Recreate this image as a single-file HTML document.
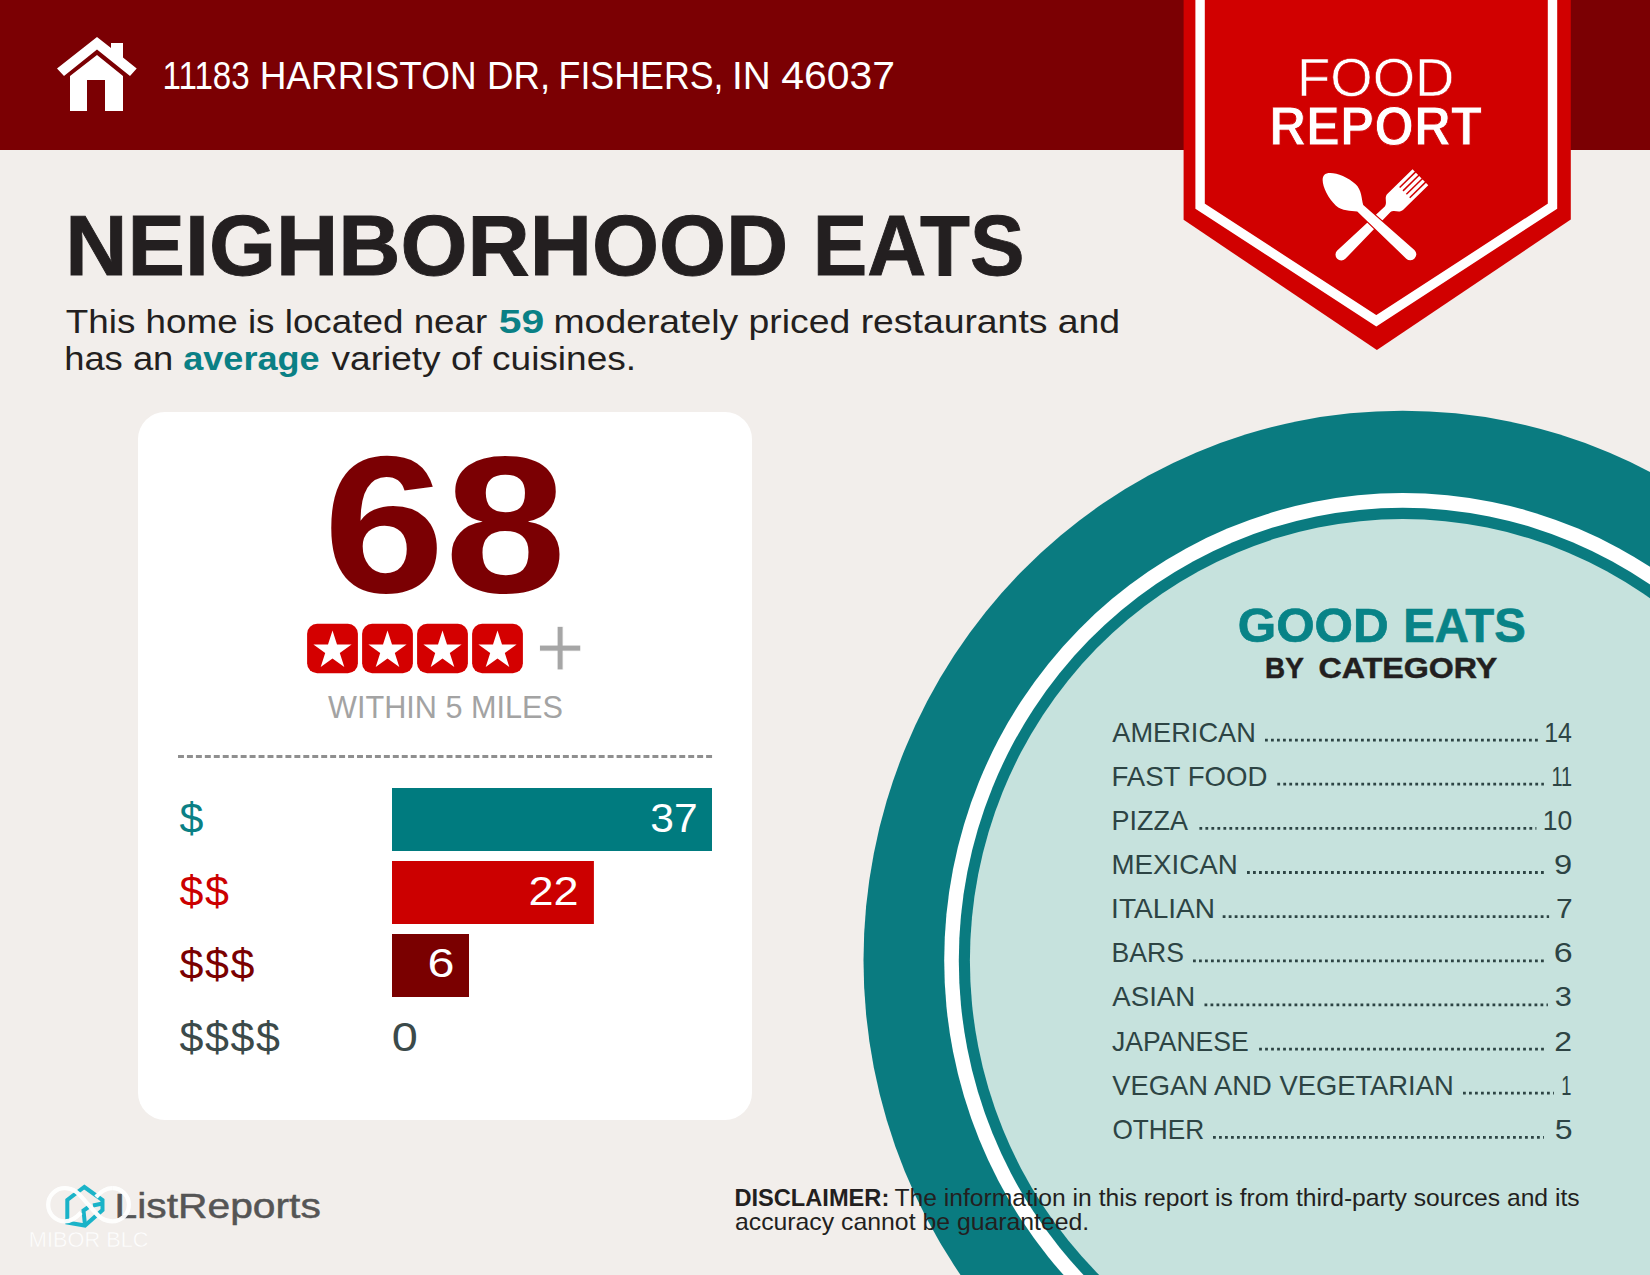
<!DOCTYPE html>
<html lang="en">
<head>
<meta charset="utf-8">
<title>Food Report - Neighborhood Eats</title>
<style>
  html, body { margin: 0; padding: 0; background: #f2eeeb; }
  body { width: 1650px; height: 1275px; overflow: hidden; position: relative; }
  svg { display: block; position: absolute; left: 0; top: 0; }
  text { font-family: "Liberation Sans", sans-serif; white-space: pre; }
</style>
</head>
<body>
<svg width="1650" height="1275" viewBox="0 0 1650 1275">
  <!-- page background -->
  <rect x="0" y="0" width="1650" height="1275" fill="#f2eeeb"/>

  <!-- plate / circle -->
  <g id="plate">
    <ellipse cx="1402.7" cy="960.4" rx="539.2" ry="549.7" fill="#0a7b80"/>
    <ellipse cx="1402.7" cy="960.4" rx="458.5" ry="467.4" fill="#ffffff"/>
    <ellipse cx="1402.7" cy="960.4" rx="443.9" ry="452.6" fill="#0a7b80"/>
    <ellipse cx="1402.7" cy="960.4" rx="432.8" ry="441.3" fill="#c6e2dd"/>
  </g>

  <!-- header bar -->
  <rect x="0" y="0" width="1650" height="150" fill="#7b0003"/>

  <!-- house icon -->
  <g id="house" fill="#ffffff">
    <polygon points="97,37 111,48 111,43 123,43 123,57.5 136.7,68.5 130,76 97,49.5 64,76 57,68.5"/>
    <polygon points="97,55 123,76 123,111 105,111 105,80 87,80 87,111 70,111 70,76"/>
  </g>
  <text y="89.1" font-size="38.7" fill="#ffffff"><tspan x="162.48" textLength="87.18" lengthAdjust="spacingAndGlyphs">11183</tspan> <tspan x="259.67" textLength="216.95" lengthAdjust="spacingAndGlyphs">HARRISTON</tspan> <tspan x="487.09" textLength="63.21" lengthAdjust="spacingAndGlyphs">DR,</tspan> <tspan x="558.57" textLength="164.95" lengthAdjust="spacingAndGlyphs">FISHERS,</tspan> <tspan x="732.02" textLength="38.74" lengthAdjust="spacingAndGlyphs">IN</tspan> <tspan x="781.16" textLength="113.80" lengthAdjust="spacingAndGlyphs">46037</tspan></text>

  <!-- badge -->
  <g id="badge">
    <polygon points="1183.6,-20 1570.8,-20 1570.8,219.6 1376.9,350 1183.6,219.8" fill="#d10000"/>
    <polygon points="1200.1,-20 1552.5,-20 1552.5,206.2 1376.3,320.8 1200.1,206.2" fill="none" stroke="#ffffff" stroke-width="9.4"/>
    <text x="1297.03" y="95.5" font-size="54.4" fill="#ffffff" textLength="157.38" lengthAdjust="spacingAndGlyphs" stroke="#d10000" stroke-width="0.6">FOOD</text>
    <text x="1269.13" y="145.1" font-size="55.0" font-weight="bold" fill="#ffffff" textLength="212.87" lengthAdjust="spacingAndGlyphs" stroke="#d10000" stroke-width="0.9">REPORT</text>
    <g id="utensils">
      <g transform="translate(1420.4,177.2) rotate(45.6)">
        <path d="M -11.25,0 L 11.25,0 L 11.25,35 C 11.25,40.5 4.8,41 3.9,46 L 5.8,110.7 A 5.8 5.8 0 0 1 -5.8,110.7 L -3.9,46 C -4.8,41 -11.25,40.5 -11.25,35 Z" fill="#ffffff"/>
        <rect x="-7.95" y="-1" width="1.5" height="23" fill="#d10000"/>
        <rect x="-3.15" y="-1" width="1.5" height="23" fill="#d10000"/>
        <rect x="1.65" y="-1" width="1.5" height="23" fill="#d10000"/>
        <rect x="6.45" y="-1" width="1.5" height="23" fill="#d10000"/>
      </g>
      <g transform="translate(1324.2,175.1) rotate(-47.4)">
        <path d="M 0,0 C 7,0 14.5,16 14.5,29 C 14.5,38 8,43 4.4,49 L 6,117 A 6 6 0 0 1 -6,117 L -4.4,49 C -8,43 -14.5,38 -14.5,29 C -14.5,16 -7,0 0,0 Z" fill="#ffffff" stroke="#d10000" stroke-width="2.4" paint-order="stroke"/>
      </g>
    </g>
  </g>

  <!-- title -->
  <text y="274.8" font-size="84.6" fill="#231f20"><tspan x="65.39" font-weight="bold" stroke="#231f20" stroke-width="0.9" textLength="722.78" lengthAdjust="spacingAndGlyphs">NEIGHBORHOOD</tspan> <tspan x="812.69" font-weight="bold" stroke="#231f20" stroke-width="0.9" textLength="211.75" lengthAdjust="spacingAndGlyphs">EATS</tspan></text>
  <text y="332.6" font-size="33" fill="#231f20"><tspan x="65.87" textLength="421.44" lengthAdjust="spacingAndGlyphs">This home is located near</tspan> <tspan x="498.74" font-weight="bold" fill="#0a8085" textLength="45.48" lengthAdjust="spacingAndGlyphs">59</tspan> <tspan x="553.52" textLength="566.59" lengthAdjust="spacingAndGlyphs">moderately priced restaurants and</tspan></text>
  <text y="370.0" font-size="33" fill="#231f20"><tspan x="64.18" textLength="109.18" lengthAdjust="spacingAndGlyphs">has an</tspan> <tspan x="183.24" font-weight="bold" fill="#0a8085" textLength="136.29" lengthAdjust="spacingAndGlyphs">average</tspan> <tspan x="331.57" textLength="304.51" lengthAdjust="spacingAndGlyphs">variety of cuisines.</tspan></text>

  <!-- card -->
  <rect x="138" y="412" width="614" height="708" rx="27" ry="27" fill="#ffffff"/>
  <text x="323.20" y="591.6" font-size="195" font-weight="bold" fill="#7b0003" textLength="243.02" lengthAdjust="spacingAndGlyphs">68</text>
  <g id="stars">
    <rect x="307.1" y="623.7" width="50.8" height="49.6" rx="10" fill="#d40000"/>
    <polygon points="332.5,630.6 337.0,644.5 351.6,644.5 339.8,653.1 344.3,667.0 332.5,658.4 320.7,667.0 325.2,653.1 313.4,644.5 328.0,644.5" fill="#ffffff"/>
    <rect x="362.1" y="623.7" width="50.8" height="49.6" rx="10" fill="#d40000"/>
    <polygon points="387.5,630.6 392.0,644.5 406.6,644.5 394.8,653.1 399.3,667.0 387.5,658.4 375.7,667.0 380.2,653.1 368.4,644.5 383.0,644.5" fill="#ffffff"/>
    <rect x="417.1" y="623.7" width="50.8" height="49.6" rx="10" fill="#d40000"/>
    <polygon points="442.5,630.6 447.0,644.5 461.6,644.5 449.8,653.1 454.3,667.0 442.5,658.4 430.7,667.0 435.2,653.1 423.4,644.5 438.0,644.5" fill="#ffffff"/>
    <rect x="472.1" y="623.7" width="50.8" height="49.6" rx="10" fill="#d40000"/>
    <polygon points="497.5,630.6 502.0,644.5 516.6,644.5 504.8,653.1 509.3,667.0 497.5,658.4 485.7,667.0 490.2,653.1 478.4,644.5 493.0,644.5" fill="#ffffff"/>
  </g>
  <text x="535.14" y="678.0" font-size="89.5" fill="#a6a6a6" textLength="49.76" lengthAdjust="spacingAndGlyphs" stroke="#ffffff" stroke-width="1.0">+</text>
  <text x="328.07" y="717.6" font-size="31.2" fill="#a3a3a3" textLength="234.84" lengthAdjust="spacingAndGlyphs">WITHIN 5 MILES</text>

  <line x1="178" y1="756.5" x2="712.1" y2="756.5" stroke="#8f8f8f" stroke-width="2.8" stroke-dasharray="5.95 3.001"/>

  <!-- bars -->
  <rect x="392" y="788" width="320" height="63" fill="#007b7f"/>
  <rect x="392" y="861" width="201.9" height="63" fill="#cc0000"/>
  <rect x="392" y="934" width="77" height="63" fill="#7a0000"/>
  <g id="price-labels">
    <text x="179.60" y="833.2" font-size="43" fill="#0a8085">$</text>
    <text x="179.60 205.05" y="906.2" font-size="43" fill="#cc0000">$$</text>
    <text x="179.60 205.05 230.50" y="979.2" font-size="43" fill="#7a0000">$$$</text>
    <text x="179.60 205.05 230.50 255.95" y="1052.2" font-size="43" fill="#3b4a4a">$$$$</text>
    <text x="650.38" y="831.8" font-size="40" fill="#ffffff" textLength="47.36" lengthAdjust="spacingAndGlyphs">37</text>
    <text x="528.53" y="904.8" font-size="40" fill="#ffffff" textLength="50.13" lengthAdjust="spacingAndGlyphs">22</text>
    <text x="427.64" y="977.4" font-size="40" fill="#ffffff" textLength="27.00" lengthAdjust="spacingAndGlyphs">6</text>
    <text x="391.77" y="1051.1" font-size="40" fill="#3b4a4a" textLength="26.06" lengthAdjust="spacingAndGlyphs">0</text>
  </g>

  <!-- list -->
  <text y="641.9" font-size="47.6" fill="#088387"><tspan x="1237.72" font-weight="bold" stroke="#088387" stroke-width="0.7" textLength="151.00" lengthAdjust="spacingAndGlyphs">GOOD</tspan> <tspan x="1403.19" font-weight="bold" stroke="#088387" stroke-width="0.7" textLength="122.51" lengthAdjust="spacingAndGlyphs">EATS</tspan></text>
  <text y="677.8" font-size="30.2" fill="#231f20"><tspan x="1265.09" font-weight="bold" stroke="#231f20" stroke-width="0.5" textLength="38.71" lengthAdjust="spacingAndGlyphs">BY</tspan> <tspan x="1318.63" font-weight="bold" stroke="#231f20" stroke-width="0.5" textLength="178.64" lengthAdjust="spacingAndGlyphs">CATEGORY</tspan></text>
  <g id="categories">
    <text x="1112.35" y="741.5" font-size="27.3" fill="#2d4444" textLength="143.47" lengthAdjust="spacingAndGlyphs">AMERICAN</text>
    <line x1="1265.0" y1="740.1" x2="1538.5" y2="740.1" stroke="#2d4444" stroke-width="2.8" stroke-dasharray="2.8 3.2"/>
    <text x="1544.20" y="741.5" font-size="27.3" fill="#2d4444" textLength="27.73" lengthAdjust="spacingAndGlyphs">14</text>
    <text x="1111.43" y="785.6" font-size="27.3" fill="#2d4444" textLength="155.99" lengthAdjust="spacingAndGlyphs">FAST FOOD</text>
    <line x1="1277.3" y1="784.2" x2="1543.9" y2="784.2" stroke="#2d4444" stroke-width="2.8" stroke-dasharray="2.8 3.2"/>
    <text x="1551.48" y="785.6" font-size="27.3" fill="#2d4444" textLength="20.69" lengthAdjust="spacingAndGlyphs">11</text>
    <text x="1111.49" y="829.8" font-size="27.3" fill="#2d4444" textLength="76.47" lengthAdjust="spacingAndGlyphs">PIZZA</text>
    <line x1="1199.4" y1="828.4" x2="1536.4" y2="828.4" stroke="#2d4444" stroke-width="2.8" stroke-dasharray="2.8 3.2"/>
    <text x="1542.78" y="829.8" font-size="27.3" fill="#2d4444" textLength="29.45" lengthAdjust="spacingAndGlyphs">10</text>
    <text x="1111.43" y="873.9" font-size="27.3" fill="#2d4444" textLength="126.34" lengthAdjust="spacingAndGlyphs">MEXICAN</text>
    <line x1="1247.0" y1="872.5" x2="1543.9" y2="872.5" stroke="#2d4444" stroke-width="2.8" stroke-dasharray="2.8 3.2"/>
    <text x="1553.97" y="873.9" font-size="27.3" fill="#2d4444" textLength="18.18" lengthAdjust="spacingAndGlyphs">9</text>
    <text x="1111.11" y="918.1" font-size="27.3" fill="#2d4444" textLength="103.87" lengthAdjust="spacingAndGlyphs">ITALIAN</text>
    <line x1="1222.7" y1="916.7" x2="1549.1" y2="916.7" stroke="#2d4444" stroke-width="2.8" stroke-dasharray="2.8 3.2"/>
    <text x="1556.07" y="918.1" font-size="27.3" fill="#2d4444" textLength="16.64" lengthAdjust="spacingAndGlyphs">7</text>
    <text x="1111.52" y="962.2" font-size="27.3" fill="#2d4444" textLength="72.40" lengthAdjust="spacingAndGlyphs">BARS</text>
    <line x1="1193.0" y1="960.8" x2="1543.9" y2="960.8" stroke="#2d4444" stroke-width="2.8" stroke-dasharray="2.8 3.2"/>
    <text x="1553.77" y="962.2" font-size="27.3" fill="#2d4444" textLength="18.92" lengthAdjust="spacingAndGlyphs">6</text>
    <text x="1112.35" y="1006.3" font-size="27.3" fill="#2d4444" textLength="82.91" lengthAdjust="spacingAndGlyphs">ASIAN</text>
    <line x1="1204.5" y1="1004.9" x2="1547.9" y2="1004.9" stroke="#2d4444" stroke-width="2.8" stroke-dasharray="2.8 3.2"/>
    <text x="1554.83" y="1006.3" font-size="27.3" fill="#2d4444" textLength="17.13" lengthAdjust="spacingAndGlyphs">3</text>
    <text x="1111.99" y="1050.5" font-size="27.3" fill="#2d4444" textLength="136.76" lengthAdjust="spacingAndGlyphs">JAPANESE</text>
    <line x1="1259.1" y1="1049.1" x2="1543.9" y2="1049.1" stroke="#2d4444" stroke-width="2.8" stroke-dasharray="2.8 3.2"/>
    <text x="1554.39" y="1050.5" font-size="27.3" fill="#2d4444" textLength="17.82" lengthAdjust="spacingAndGlyphs">2</text>
    <text x="1112.28" y="1094.6" font-size="27.3" fill="#2d4444" textLength="341.45" lengthAdjust="spacingAndGlyphs">VEGAN AND VEGETARIAN</text>
    <line x1="1463.0" y1="1093.2" x2="1553.9" y2="1093.2" stroke="#2d4444" stroke-width="2.8" stroke-dasharray="2.8 3.2"/>
    <text x="1561.30" y="1094.6" font-size="27.3" fill="#2d4444" textLength="10.19" lengthAdjust="spacingAndGlyphs">1</text>
    <text x="1112.46" y="1138.8" font-size="27.3" fill="#2d4444" textLength="91.76" lengthAdjust="spacingAndGlyphs">OTHER</text>
    <line x1="1213.0" y1="1137.4" x2="1543.9" y2="1137.4" stroke="#2d4444" stroke-width="2.8" stroke-dasharray="2.8 3.2"/>
    <text x="1554.72" y="1138.8" font-size="27.3" fill="#2d4444" textLength="17.83" lengthAdjust="spacingAndGlyphs">5</text>
  </g>

  <!-- logo -->
  <g id="logo">
    <path d="M 84.3,1187 L 102.5,1200 L 102.5,1210 L 85,1225.5 L 67.3,1222.5 L 67.3,1200 Z" fill="none" stroke="#1ab3c8" stroke-width="4" stroke-linejoin="miter"/>
    <path d="M 102.5,1203.5 L 93,1205.5 M 85,1225 L 83.5,1210.5 L 90,1206" fill="none" stroke="#1ab3c8" stroke-width="4"/>
    <text x="114.61" y="1218.0" font-size="35.5" fill="#555555" textLength="206.22" lengthAdjust="spacingAndGlyphs" stroke="#555555" stroke-width="0.5">ListReports</text>
  </g>
  <g id="watermark" opacity="0.95">
    <path d="M 64.8,1221.4 C 72,1221.4 77,1217 81,1212.5 M 96,1197 C 100,1192.5 105,1188.2 112.3,1188.2" fill="none" stroke="#ffffff" stroke-width="4.3"/>
    <path d="M 64.8,1188.2 A 16.6 16.6 0 0 0 64.8,1221.4 M 112.3,1188.2 A 16.6 16.6 0 0 1 112.3,1221.4 C 101,1221.4 97,1214 88.5,1204.8 C 80,1195.6 76,1188.2 64.8,1188.2" fill="none" stroke="#ffffff" stroke-width="4.3"/>
    <text x="28.81" y="1247.4" font-size="21.3" fill="#ffffff" textLength="119.71" lengthAdjust="spacingAndGlyphs" stroke="#f2eeeb" stroke-width="0.4">MIBOR BLC</text>
  </g>

  <!-- footer -->
  <text y="1205.7" font-size="24.2" fill="#231f20"><tspan x="734.42" font-weight="bold" textLength="154.85" lengthAdjust="spacingAndGlyphs">DISCLAIMER:</tspan> <tspan x="894.45" textLength="685.14" lengthAdjust="spacingAndGlyphs">The information in this report is from third-party sources and its</tspan></text>
  <text x="734.95" y="1230.3" font-size="24.0" fill="#231f20" textLength="354.32" lengthAdjust="spacingAndGlyphs">accuracy cannot be guaranteed.</text>
</svg>
</body>
</html>
